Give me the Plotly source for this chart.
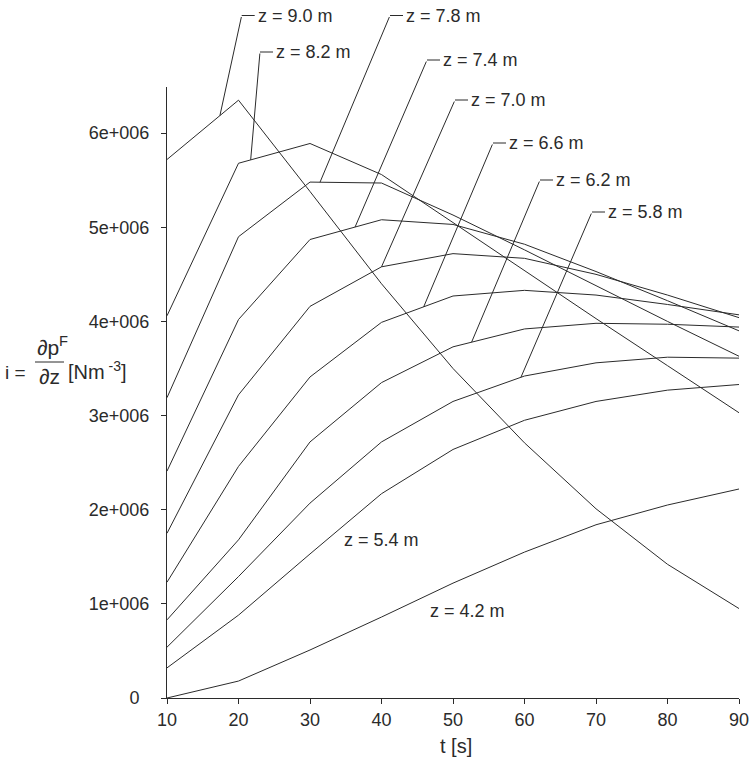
import numpy as np
import plotly.graph_objects as go

# ---------------- data ----------------
t = [10, 20, 30, 40, 50, 60, 70, 80, 90]

i_z90 = [5.72e6, 6.35e6, 5.38e6, 4.40e6, 3.50e6, 2.71e6, 2.01e6, 1.42e6, 0.95e6]
i_z82 = [4.06e6, 5.68e6, 5.89e6, 5.56e6, 5.05e6, 4.54e6, 4.03e6, 3.53e6, 3.03e6]
i_z78 = [3.19e6, 4.90e6, 5.48e6, 5.47e6, 5.13e6, 4.76e6, 4.38e6, 4.00e6, 3.63e6]
i_z74 = [2.41e6, 4.02e6, 4.87e6, 5.08e6, 5.03e6, 4.82e6, 4.53e6, 4.22e6, 3.90e6]
i_z70 = [1.75e6, 3.22e6, 4.16e6, 4.58e6, 4.72e6, 4.67e6, 4.50e6, 4.28e6, 4.04e6]
i_z66 = [1.23e6, 2.46e6, 3.41e6, 3.99e6, 4.27e6, 4.33e6, 4.28e6, 4.18e6, 4.07e6]
i_z62 = [0.83e6, 1.68e6, 2.72e6, 3.35e6, 3.73e6, 3.92e6, 3.98e6, 3.97e6, 3.94e6]
i_z58 = [0.54e6, 1.29e6, 2.07e6, 2.72e6, 3.15e6, 3.42e6, 3.56e6, 3.62e6, 3.61e6]
i_z54 = [0.32e6, 0.88e6, 1.53e6, 2.17e6, 2.64e6, 2.95e6, 3.15e6, 3.27e6, 3.33e6]
i_z42 = [0.00e6, 0.18e6, 0.51e6, 0.86e6, 1.22e6, 1.55e6, 1.84e6, 2.05e6, 2.22e6]

series = [i_z90, i_z82, i_z78, i_z74, i_z70, i_z66, i_z62, i_z58, i_z54, i_z42]
series_names = ["z = 9.0 m", "z = 8.2 m", "z = 7.8 m", "z = 7.4 m", "z = 7.0 m",
                "z = 6.6 m", "z = 6.2 m", "z = 5.8 m", "z = 5.4 m", "z = 4.2 m"]

y_tickvals = [0, 1e6, 2e6, 3e6, 4e6, 5e6, 6e6]
y_ticktext = ["0\u00a0\u00a0", "1e+006", "2e+006", "3e+006", "4e+006", "5e+006", "6e+006"]
x_tickvals = [10, 20, 30, 40, 50, 60, 70, 80, 90]

# ---------------- layout geometry ----------------
W, H = 749, 769
ML, MR, MT, MB = 167, 10, 87, 71
PW, PH = W - ML - MR, H - MT - MB
XMIN, XMAX = 10, 90
YMAX = 6.49e6
INK = "#2b2b2b"
FONT = "Liberation Sans, Arial, sans-serif"


def px2x(px):
    return XMIN + (px - ML) / PW * (XMAX - XMIN)


def py2y(py):
    return (MT + PH - py) / PH * YMAX


def px2paper(px):
    return (px - ML) / PW


def py2paper(py):
    return (MT + PH - py) / PH


fig = go.Figure()
for s, name in zip(series, series_names):
    fig.add_trace(go.Scatter(x=t, y=s, mode="lines", name=name,
                             line=dict(color=INK, width=1), hoverinfo="name+x+y"))

annotations = []
shapes = []

# leader-line labels: (series index, t of tip on curve, label corner in px)
leaders = [
    (0, 17.4, (241.7, 15.5)),
    (1, 21.7, (260.0, 52.0)),
    (2, 31.4, (390.0, 15.5)),
    (3, 36.3, (427.0, 60.0)),
    (4, 40.0, (455.0, 100.0)),
    (5, 45.9, (493.0, 143.0)),
    (6, 52.6, (540.0, 180.0)),
    (7, 59.5, (592.0, 212.0)),
]
for idx, t_tip, (lx, ly) in leaders:
    y_tip = float(np.interp(t_tip, t, series[idx]))
    annotations.append(dict(
        x=t_tip, y=y_tip, xref="x", yref="y",
        ax=px2x(lx), ay=py2y(ly), axref="x", ayref="y",
        text="", showarrow=True, arrowhead=0, arrowwidth=1,
        arrowcolor=INK, standoff=0, startstandoff=0))
    shapes.append(dict(type="line", xref="paper", yref="paper",
                       x0=px2paper(lx), x1=px2paper(lx + 13),
                       y0=py2paper(ly), y1=py2paper(ly),
                       line=dict(color=INK, width=1)))
    annotations.append(dict(
        x=px2paper(lx + 14), y=py2paper(ly), xref="paper", yref="paper",
        xanchor="left", yanchor="middle", showarrow=False,
        text=series_names[idx], font=dict(family=FONT, size=18, color=INK)))

# free labels
for idx, (cx, cy) in [(8, (381, 540)), (9, (467, 611))]:
    annotations.append(dict(
        x=px2paper(cx), y=py2paper(cy), xref="paper", yref="paper",
        xanchor="center", yanchor="middle", showarrow=False,
        text=series_names[idx], font=dict(family=FONT, size=18, color=INK)))

# y-axis title built as a fraction
annotations += [
    dict(x=px2paper(15), y=py2paper(372), xref="paper", yref="paper",
         xanchor="center", yanchor="middle", showarrow=False,
         text="i =", font=dict(family=FONT, size=19, color=INK)),
    dict(x=px2paper(35), y=py2paper(361), xref="paper", yref="paper",
         xanchor="left", yanchor="bottom", showarrow=False,
         text="\u2202p<sup>F</sup>", font=dict(family=FONT, size=21, color=INK)),
    dict(x=px2paper(49.5), y=py2paper(363), xref="paper", yref="paper",
         xanchor="center", yanchor="top", showarrow=False,
         text="\u2202z", font=dict(family=FONT, size=21, color=INK)),
    dict(x=px2paper(66), y=py2paper(370), xref="paper", yref="paper",
         xanchor="left", yanchor="middle", showarrow=False,
         text="[Nm<sup> -3</sup>]", font=dict(family=FONT, size=20, color=INK)),
    dict(x=px2paper(456), y=py2paper(746), xref="paper", yref="paper",
         xanchor="center", yanchor="middle", showarrow=False,
         text="t [s]", font=dict(family=FONT, size=20, color=INK)),
]
shapes.append(dict(type="line", xref="paper", yref="paper",
                   x0=px2paper(35), x1=px2paper(64),
                   y0=py2paper(362), y1=py2paper(362),
                   line=dict(color=INK, width=1)))

fig.update_layout(
    width=W, height=H,
    margin=dict(l=ML, r=MR, t=MT, b=MB, autoexpand=False),
    paper_bgcolor="white", plot_bgcolor="white",
    showlegend=False,
    font=dict(family=FONT, size=18, color=INK),
    annotations=annotations, shapes=shapes,
    xaxis=dict(range=[XMIN, XMAX], tickvals=x_tickvals, ticks="outside",
               ticklen=5, tickcolor=INK, showline=True, linecolor=INK,
               linewidth=1, showgrid=False, zeroline=False,
               ticklabeloverflow="allow", automargin=False,
               tickfont=dict(family=FONT, size=18, color=INK)),
    yaxis=dict(range=[0, YMAX], tickvals=y_tickvals, ticktext=y_ticktext,
               ticks="outside", ticklen=5, tickcolor=INK, showline=True,
               linecolor=INK, linewidth=1, showgrid=False, zeroline=False,
               ticklabelstandoff=8, automargin=False,
               tickfont=dict(family=FONT, size=18, color=INK)),
)

fig.write_html("out.html")
